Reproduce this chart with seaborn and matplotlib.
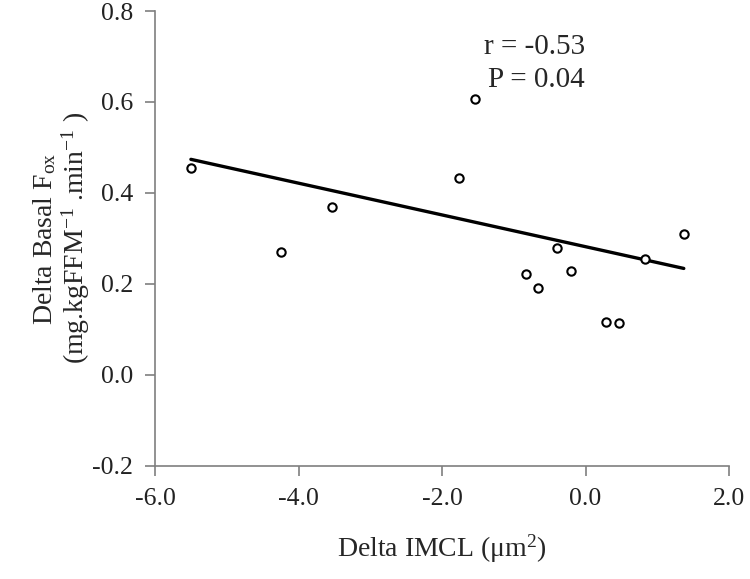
import matplotlib
matplotlib.use("Agg")
import matplotlib.pyplot as plt
import seaborn as sns
import pandas as pd
import numpy as np

# values
delta_imcl = [-5.50, -4.25, -3.54, -1.76, -1.54, -0.83, -0.66, -0.40, -0.20, 0.28, 0.47, 0.83, 1.37]
delta_fox = [0.455, 0.270, 0.369, 0.433, 0.606, 0.223, 0.191, 0.280, 0.229, 0.117, 0.114, 0.255, 0.309]
# trendline as drawn in the reference
trend_slope = -0.0349
trend_intercept = 0.282
x_ticks = [-6.0, -4.0, -2.0, 0.0, 2.0]
y_ticks = [-0.2, 0.0, 0.2, 0.4, 0.6, 0.8]
stats_text = ["r = -0.53", "P = 0.04"]

sns.set_style("ticks")
plt.rcParams['font.family'] = ['Liberation Serif', 'DejaVu Serif']
plt.rcParams['mathtext.fontset'] = 'custom'
plt.rcParams['mathtext.rm'] = 'Liberation Serif'
plt.rcParams['mathtext.it'] = 'Liberation Serif:italic'

df = pd.DataFrame({'imcl': delta_imcl, 'fox': delta_fox})
trend_x = np.array([min(delta_imcl), max(delta_imcl)])
trend = pd.DataFrame({'imcl': trend_x, 'fox': trend_intercept + trend_slope * trend_x})

fig = plt.figure(figsize=(7.5, 5.79), dpi=100)
ax = fig.add_axes([0.2067, 0.1952, 0.7653, 0.7858])

sns.lineplot(data=trend, x='imcl', y='fox', color='black', lw=2.4, ax=ax, zorder=2)
sns.scatterplot(data=df, x='imcl', y='fox', ax=ax, s=36, facecolor='white',
                edgecolor='black', linewidth=1.5, zorder=3)

ax.set_xlim(-6, 2)
ax.set_ylim(-0.2, 0.8)
ax.set_xticks(x_ticks)
ax.set_yticks(y_ticks)
ax.set_xticklabels([f"{t:.1f}" for t in x_ticks])
ax.set_yticklabels([f"{t:.1f}" for t in y_ticks])

for side in ['top', 'right']:
    ax.spines[side].set_visible(False)
for side in ['left', 'bottom']:
    ax.spines[side].set_color('#7f7f7f')
    ax.spines[side].set_linewidth(1.2)
ax.tick_params(axis='both', direction='out', length=7, width=1.2, color='#7f7f7f',
               labelsize=18.5, labelcolor='#222222', pad=9)

ax.set_xlabel('Delta IMCL (μm$^{\\mathregular{2}}$)', fontsize=20, labelpad=16)
ax.set_ylabel('Delta Basal F$_{\\mathregular{ox}}$\n(mg.kgFFM$^{\\mathregular{-1}}$ .min$^{\\mathregular{-1}}$ )',
              fontsize=20, labelpad=0, linespacing=1.05)

ax.text(-1.41, 0.721, stats_text[0], fontsize=21, ha='left', va='center')
ax.text(-1.36, 0.648, stats_text[1], fontsize=21, ha='left', va='center')

fig.savefig('out.png', dpi=100)
